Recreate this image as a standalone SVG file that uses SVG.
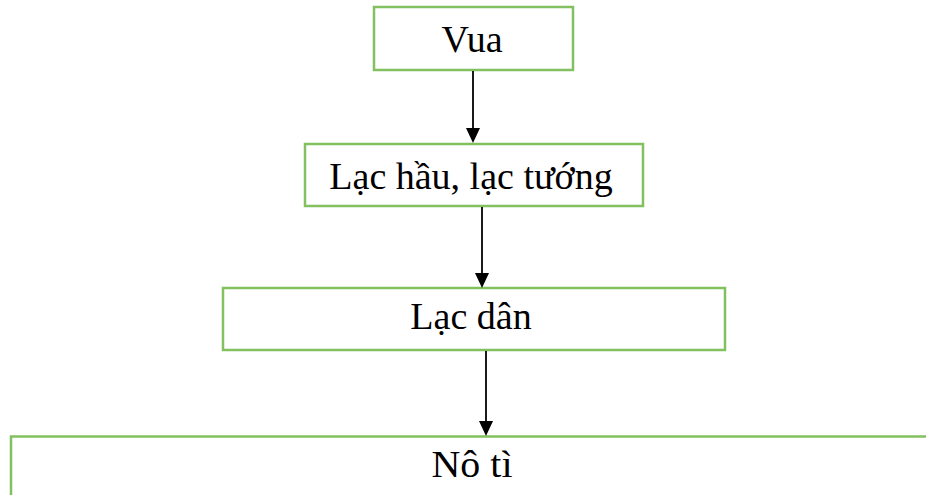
<svg xmlns="http://www.w3.org/2000/svg" width="926" height="495" viewBox="0 0 926 495">
<style>
.box{fill:#ffffff;stroke:#82c060;stroke-width:2.5}
.lbl{font-family:"Liberation Serif","Times New Roman",serif;font-size:38px;fill:#000000;text-anchor:middle}
.edge{stroke:#1a1a1a;stroke-width:2;fill:none}
.head{fill:#000000}
</style>
<rect width="926" height="495" fill="#ffffff"/>
<g id="node-vua">
<rect class="box" x="374" y="7" width="199" height="63"/>
<text class="lbl" x="472" y="52">Vua</text>
</g>
<g id="node-lachau">
<rect class="box" x="305" y="144" width="338" height="62"/>
<text class="lbl" x="471" y="189">Lạc hầu, lạc tướng</text>
</g>
<g id="node-lacdan">
<rect class="box" x="223" y="288" width="502" height="62"/>
<text class="lbl" x="471" y="329">Lạc dân</text>
</g>
<g id="node-noti">
<rect class="box" x="11" y="436.5" width="940" height="80"/>
<text class="lbl" x="472" y="477" textLength="81" lengthAdjust="spacingAndGlyphs">Nô tì</text>
</g>
<g id="connectors">
<path class="edge" d="M473,71 L473,129"/>
<path class="head" d="M466,128 L480,128 L473,143 Z"/>
<path class="edge" d="M482,207 L482,274"/>
<path class="head" d="M475,273 L489,273 L482,288 Z"/>
<path class="edge" d="M486,351 L486,422"/>
<path class="head" d="M479,421 L493,421 L486,436 Z"/>
</g>
</svg>
